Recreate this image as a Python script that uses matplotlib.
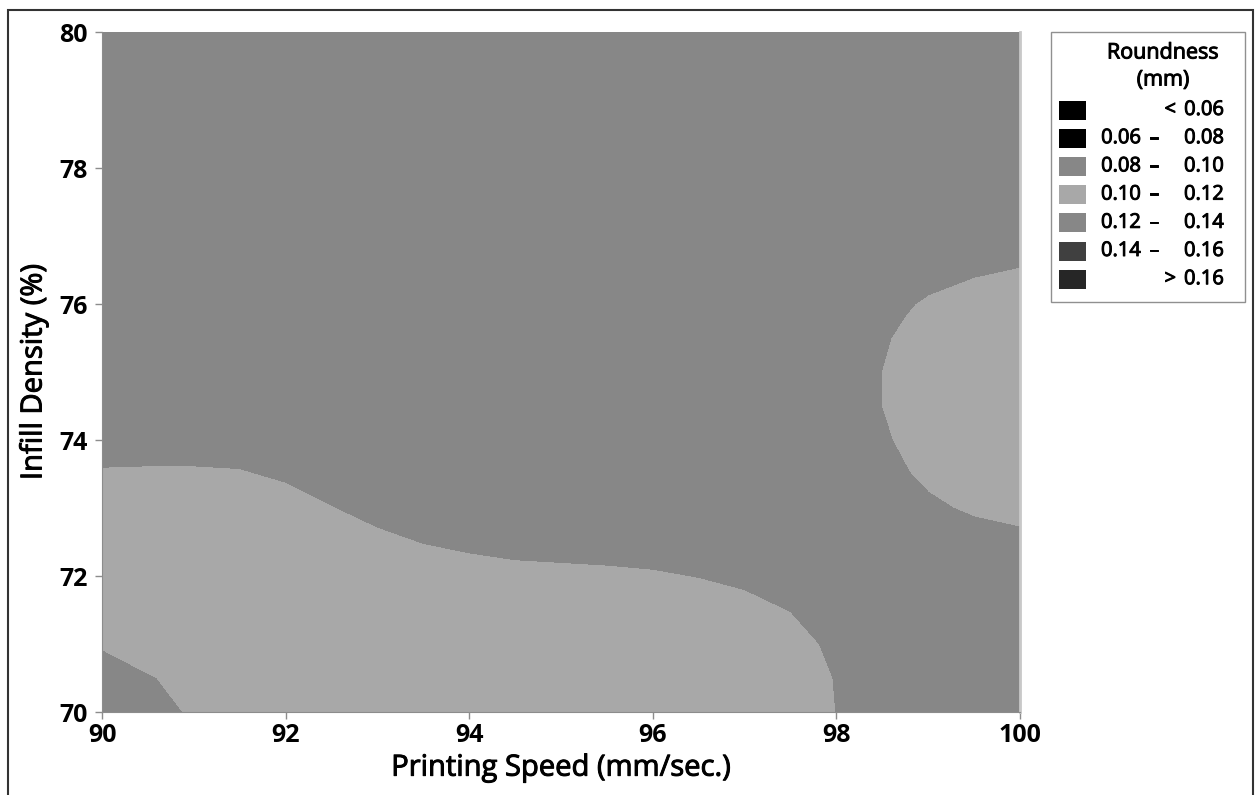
import matplotlib
matplotlib.use('Agg')
import matplotlib.pyplot as plt
import matplotlib.patheffects as pe
from matplotlib.patches import Rectangle
import numpy as np

plt.rcParams['font.family'] = ['Open Sans', 'DejaVu Sans']
heavy = [pe.withStroke(linewidth=0.7, foreground='black')]

# contour classes (mm) and the grey used for each class
level_edges = [0.06, 0.08, 0.10, 0.12, 0.14, 0.16]
level_colors = ['#000000', '#000000', '#878787', '#a8a8a8', '#878787', '#404040', '#262626']

# coarse field over the whole design space (all in the 0.12-0.14 class)
speed_bg = [90, 95, 100]
density_bg = [70, 75, 80]
roundness_bg = [[0.128, 0.128, 0.126],
                [0.130, 0.130, 0.128],
                [0.132, 0.132, 0.130]]

# lower band (low density), one list per printing speed, density 70 -> 74.5
band_speed = [90, 90.5, 91, 91.5, 92, 92.5, 93, 93.5, 94, 94.5, 95, 95.5, 96, 96.5, 97, 97.5, 98]
band_density = [70, 70.5, 71, 71.5, 72, 72.5, 73, 73.5, 74, 74.5]
band_roundness = [
    [0.0880, 0.0922, 0.1015, 0.1095, 0.1120, 0.1145, 0.1170, 0.1195, 0.1220, 0.1245],
    [0.0940, 0.0989, 0.1069, 0.1094, 0.1119, 0.1144, 0.1169, 0.1194, 0.1219, 0.1244],
    [0.1019, 0.1044, 0.1069, 0.1094, 0.1119, 0.1144, 0.1169, 0.1194, 0.1219, 0.1244],
    [0.1021, 0.1046, 0.1071, 0.1096, 0.1121, 0.1146, 0.1171, 0.1196, 0.1221, 0.1246],
    [0.1031, 0.1056, 0.1081, 0.1106, 0.1131, 0.1156, 0.1181, 0.1206, 0.1231, 0.1256],
    [0.1048, 0.1073, 0.1098, 0.1123, 0.1148, 0.1173, 0.1198, 0.1223, 0.1248, 0.1273],
    [0.1064, 0.1089, 0.1114, 0.1139, 0.1164, 0.1189, 0.1214, 0.1239, 0.1264, 0.1289],
    [0.1075, 0.1100, 0.1125, 0.1150, 0.1175, 0.1201, 0.1225, 0.1250, 0.1275, 0.1300],
    [0.1083, 0.1108, 0.1133, 0.1158, 0.1183, 0.1208, 0.1233, 0.1258, 0.1283, 0.1308],
    [0.1088, 0.1113, 0.1138, 0.1163, 0.1188, 0.1213, 0.1238, 0.1263, 0.1288, 0.1313],
    [0.1090, 0.1115, 0.1140, 0.1165, 0.1190, 0.1215, 0.1240, 0.1265, 0.1290, 0.1315],
    [0.1092, 0.1117, 0.1142, 0.1167, 0.1192, 0.1217, 0.1242, 0.1267, 0.1292, 0.1317],
    [0.1095, 0.1120, 0.1145, 0.1170, 0.1195, 0.1220, 0.1245, 0.1270, 0.1295, 0.1320],
    [0.1101, 0.1126, 0.1151, 0.1176, 0.1201, 0.1226, 0.1251, 0.1276, 0.1301, 0.1326],
    [0.1110, 0.1135, 0.1160, 0.1185, 0.1210, 0.1235, 0.1260, 0.1285, 0.1310, 0.1335],
    [0.1126, 0.1151, 0.1176, 0.1201, 0.1226, 0.1251, 0.1276, 0.1301, 0.1326, 0.1351],
    [0.1201, 0.1204, 0.1214, 0.1230, 0.1245, 0.1260, 0.1280, 0.1300, 0.1320, 0.1340],
]

# bump at high speed, one list per density, speed 98 -> 100
bump_speed = [98, 98.25, 98.5, 98.75, 99, 99.5, 100]
bump_density = [72, 72.5, 73, 73.5, 74, 74.5, 75, 75.5, 76, 76.5, 77]
bump_roundness = [
    [0.1350, 0.1339, 0.1327, 0.1310, 0.1296, 0.1281, 0.1270],
    [0.1315, 0.1300, 0.1284, 0.1271, 0.1255, 0.1234, 0.1221],
    [0.1295, 0.1274, 0.1253, 0.1231, 0.1214, 0.1188, 0.1173],
    [0.1275, 0.1250, 0.1227, 0.1205, 0.1184, 0.1145, 0.1124],
    [0.1258, 0.1234, 0.1210, 0.1187, 0.1163, 0.1115, 0.1078],
    [0.1250, 0.1226, 0.1199, 0.1176, 0.1151, 0.1102, 0.1050],
    [0.1251, 0.1226, 0.1199, 0.1176, 0.1151, 0.1102, 0.1055],
    [0.1256, 0.1232, 0.1209, 0.1185, 0.1161, 0.1118, 0.1100],
    [0.1272, 0.1248, 0.1227, 0.1208, 0.1189, 0.1163, 0.1148],
    [0.1300, 0.1282, 0.1259, 0.1242, 0.1230, 0.1210, 0.1196],
    [0.1335, 0.1320, 0.1297, 0.1287, 0.1274, 0.1258, 0.1244],
]

x_ticks = [90, 92, 94, 96, 98, 100]
y_ticks = [70, 72, 74, 76, 78, 80]

W, H = 1256, 795
fig = plt.figure(figsize=(W / 100, H / 100), dpi=100)
fx = lambda px: px / W
fy = lambda py: 1 - py / H

ax = fig.add_axes([fx(102), fy(712), fx(1020) - fx(102), fy(32) - fy(712)])

levels = [-1] + level_edges + [1]
ax.contourf(speed_bg, density_bg, roundness_bg, levels=levels, colors=level_colors)
ax.contourf(band_speed, band_density, np.array(band_roundness).T, levels=levels, colors=level_colors)
ax.contourf(bump_speed, bump_density, bump_roundness, levels=levels, colors=level_colors)

ax.set_xlim(90, 100)
ax.set_ylim(70, 80)
ax.set_xticks(x_ticks)
ax.set_yticks(y_ticks)
ax.tick_params(direction='out', length=5, width=1, color='#8c8c8c')
ax.tick_params(axis='x', pad=3)
ax.tick_params(axis='y', pad=5)
for lab in ax.get_xticklabels() + ax.get_yticklabels():
    lab.set_fontsize(18)
    lab.set_fontweight('bold')
ax.spines['top'].set_visible(False)
ax.spines['left'].set_color('#8c8c8c')
ax.spines['bottom'].set_color('#8c8c8c')
ax.spines['right'].set_color('#c8c8c8')
ax.spines['right'].set_linewidth(2)

ax.set_xlabel('Printing Speed (mm/sec.)', fontsize=21, labelpad=4, path_effects=heavy)
ax.set_ylabel('Infill Density (%)', fontsize=21, labelpad=8, path_effects=heavy)

# outer frame
fig.patches.append(Rectangle((fx(8), fy(800)), fx(1253) - fx(8), fy(10) - fy(800),
                             transform=fig.transFigure, fill=False, edgecolor='#333333', lw=1.5))

# legend box
fig.patches.append(Rectangle((fx(1051), fy(302)), fx(1245) - fx(1051), fy(32) - fy(302),
                             transform=fig.transFigure, fill=False, edgecolor='#909090', lw=1))
fig.text(fx(1163), fy(53), 'Roundness', ha='center', va='center', fontsize=15.5, path_effects=heavy)
fig.text(fx(1163), fy(80), '(mm)', ha='center', va='center', fontsize=15.5, path_effects=heavy)

labels_left = [''] + ['%.2f' % v for v in level_edges[:-1]] + ['']
labels_right = ['%.2f' % level_edges[0]] + ['%.2f' % v for v in level_edges[1:]] + ['%.2f' % level_edges[-1]]
labels_sign = ['<'] + [''] * (len(level_edges) - 1) + ['>']
for i, col in enumerate(level_colors):
    yc = 110 + 28.2 * i
    fig.patches.append(Rectangle((fx(1059), fy(yc + 9.5)), fx(1086) - fx(1059), fy(yc - 9.5) - fy(yc + 9.5),
                                 transform=fig.transFigure, facecolor=col, edgecolor='none'))
    kw = dict(va='center', fontsize=14.5, path_effects=heavy)
    if labels_left[i]:
        fig.text(fx(1141), fy(yc), labels_left[i], ha='right', **kw)
        fig.text(fx(1154), fy(yc), '\u2013', ha='center', **kw)
    if labels_sign[i]:
        fig.text(fx(1176), fy(yc), labels_sign[i], ha='right', **kw)
    fig.text(fx(1224), fy(yc), labels_right[i], ha='right', **kw)

fig.savefig('out.png', dpi=100)
